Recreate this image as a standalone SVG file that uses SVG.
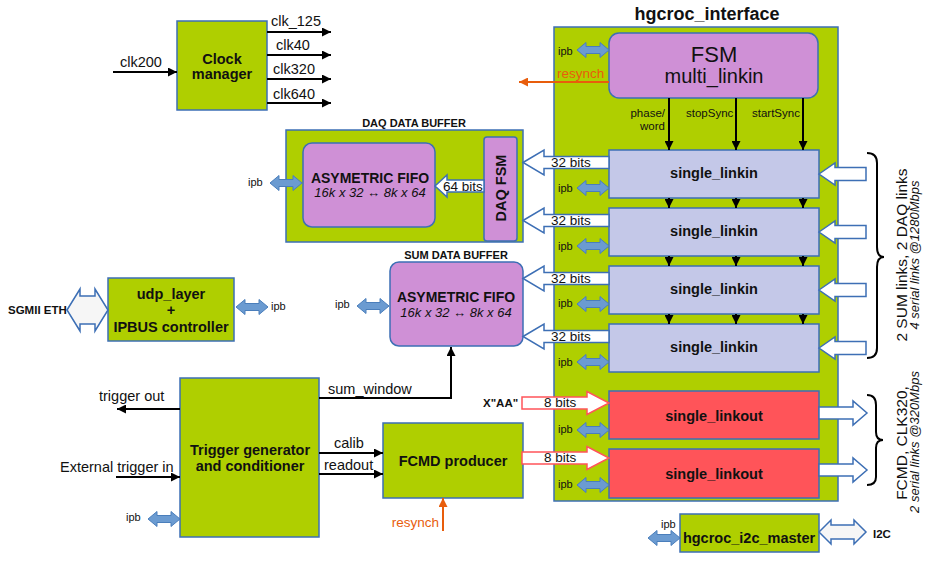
<svg xmlns="http://www.w3.org/2000/svg" xmlns:xlink="http://www.w3.org/1999/xlink" width="925" height="563" viewBox="0 0 925 563">
<style>
text{font-family:"Liberation Sans",Arial,sans-serif;fill:#111}
.g{fill:#afcf00;stroke:#3d6fb5;stroke-width:1.5}
.p{fill:#cf90d6;stroke:#3d6fb5;stroke-width:1.5}
.l{fill:#c4c8e8;stroke:#3d6fb5;stroke-width:1.5}
.r{fill:#ff5459;stroke:#3d6fb5;stroke-width:1.5}
.b{font-weight:bold}
.t14{font-size:14.5px}
.c{text-anchor:middle}
.e{text-anchor:end}
.ipbt{font-size:11px}
.hw{fill:#fff;stroke:#3d6fb5;stroke-width:1.5}
.hr{fill:#fff;stroke:#ff5459;stroke-width:1.5}
.hl{fill:#f6f6f6;stroke:#3d6fb5;stroke-width:1.5}
.ln{stroke:#000;stroke-width:2;fill:none}
.or{stroke:#e85d0c;stroke-width:2;fill:none}
.br{stroke:#000;stroke-width:2;fill:none}
</style>
<defs>
<marker id="ah" viewBox="0 0 10 10" refX="10" refY="5" markerWidth="10" markerHeight="9" markerUnits="userSpaceOnUse" orient="auto"><path d="M0,0 L10,5 L0,10 z" fill="#000"/></marker>
<marker id="ao" viewBox="0 0 10 10" refX="10" refY="5" markerWidth="10" markerHeight="9" markerUnits="userSpaceOnUse" orient="auto"><path d="M0,0 L10,5 L0,10 z" fill="#e85d0c"/></marker>
<path id="ipb" d="M0,0 l9,-7.5 v4 h14 v-4 l9,7.5 l-9,7.5 v-4 h-14 v4 z" fill="#6b9bd1" stroke="#4a7ebb" stroke-width="1"/>
</defs>

<!-- Clock manager -->
<g id="clock_manager">
<rect class="g" x="177" y="21" width="90" height="89"/>
<text class="b t14 c" x="222" y="64">Clock</text>
<text class="b t14 c" x="222" y="79">manager</text>
<text class="t14" x="120" y="67">clk200</text>
<text class="t14 c" x="296" y="26">clk_125</text>
<text class="t14 c" x="293" y="50">clk40</text>
<text class="t14 c" x="294" y="74">clk320</text>
<text class="t14 c" x="294" y="99">clk640</text>
</g>

<!-- DAQ data buffer -->
<g id="daq_data_buffer">
<text class="b c" style="font-size:11px" x="414" y="127">DAQ DATA BUFFER</text>
<rect class="g" x="286" y="130" width="237" height="112"/>
<rect class="p" x="303" y="143" width="132" height="84" rx="9"/>
<text class="b c" style="font-size:14px" x="370" y="183">ASYMETRIC FIFO</text>
<text class="c" style="font-size:13px;font-style:italic" x="370" y="197">16k x 32 ↔ 8k x 64</text>
<rect class="p" x="484" y="137" width="33" height="104" rx="3"/>
<text class="b t14 c" transform="translate(506,188) rotate(-90)">DAQ FSM</text>
<polygon class="hw" points="435,186 447,175 447,180 484,180 484,192 447,192 447,197"/>
<text style="font-size:13.5px" x="443" y="191">64 bits</text>
<use xlink:href="#ipb" x="270" y="183"/>
<text class="ipbt" x="248" y="186">ipb</text>
</g>

<!-- SUM data buffer -->
<g id="sum_data_buffer">
<text class="b c" style="font-size:11px" x="456" y="259">SUM DATA BUFFER</text>
<rect class="p" x="390" y="262" width="133" height="84" rx="9"/>
<text class="b c" style="font-size:14px" x="456" y="302">ASYMETRIC FIFO</text>
<text class="c" style="font-size:13px;font-style:italic" x="456" y="317">16k x 32 ↔ 8k x 64</text>
<use xlink:href="#ipb" x="357" y="306"/>
<text class="ipbt" x="335" y="308">ipb</text>
</g>

<!-- udp layer -->
<g id="udp_layer">
<rect class="g" x="108" y="278" width="126" height="63"/>
<text class="b t14 c" x="171" y="299">udp_layer</text>
<text class="b t14 c" x="171" y="315">+</text>
<text class="b t14 c" x="171" y="332">IPBUS controller</text>
<polygon class="hl" points="67,310 80,289 80,296 95,296 95,289 108,310 95,331 95,324 80,324 80,331"/>
<text class="b" style="font-size:11.5px" x="8" y="314">SGMII ETH</text>
<use xlink:href="#ipb" x="236" y="307"/>
<text class="ipbt" x="271" y="310">ipb</text>
</g>

<!-- Trigger generator -->
<g id="trigger_generator">
<rect class="g" x="180" y="378" width="139" height="159"/>
<text class="b t14 c" x="250" y="455">Trigger generator</text>
<text class="b t14 c" x="250" y="471">and conditioner</text>
<text class="t14" x="99" y="401">trigger out</text>
<text class="t14" x="60" y="472">External trigger in</text>
<use xlink:href="#ipb" x="148" y="519"/>
<text class="ipbt" x="126" y="521">ipb</text>
</g>

<!-- FCMD producer -->
<g id="fcmd_producer">
<rect class="g" x="383" y="423" width="140" height="75"/>
<text class="b t14 c" x="453" y="466">FCMD producer</text>
<text class="e" style="font-size:13.5px;fill:#e85d0c" x="439" y="527">resynch</text>
</g>

<!-- hgcroc interface -->
<g id="hgcroc_interface">
<text class="b c" style="font-size:18px" x="707" y="20">hgcroc_interface</text>
<rect class="g" x="554" y="27" width="284" height="474"/>
</g>

<g id="fsm_multi_linkin">
<rect class="p" x="609" y="33" width="209" height="65" rx="10"/>
<text class="c" style="font-size:22px" x="714" y="62">FSM</text>
<text class="c" style="font-size:20px" x="714" y="83">multi_linkin</text>
<use xlink:href="#ipb" x="577" y="50"/>
<text class="ipbt" x="558" y="55">ipb</text>
<text style="font-size:13.5px;fill:#e85d0c" x="557" y="78">resynch</text>
<text class="e" style="font-size:11.5px" x="665" y="117">phase/</text>
<text class="e" style="font-size:11.5px" x="665" y="130">word</text>
<text style="font-size:11.5px" x="686" y="117">stopSync</text>
<text style="font-size:11.5px" x="752" y="117">startSync</text>
</g>

<g id="single_linkin_1">
<rect class="l" x="609" y="150" width="210" height="48"/>
<text class="b t14 c" x="714" y="178">single_linkin</text>
<use xlink:href="#ipb" x="577" y="188"/>
<text class="ipbt" x="558" y="192">ipb</text>
</g>
<g id="single_linkin_2">
<rect class="l" x="609" y="208" width="210" height="48"/>
<text class="b t14 c" x="714" y="236">single_linkin</text>
<use xlink:href="#ipb" x="577" y="246"/>
<text class="ipbt" x="558" y="250">ipb</text>
</g>
<g id="single_linkin_3">
<rect class="l" x="609" y="266" width="210" height="48"/>
<text class="b t14 c" x="714" y="294">single_linkin</text>
<use xlink:href="#ipb" x="577" y="304"/>
<text class="ipbt" x="558" y="307">ipb</text>
</g>
<g id="single_linkin_4">
<rect class="l" x="609" y="324" width="210" height="48"/>
<text class="b t14 c" x="714" y="352">single_linkin</text>
<use xlink:href="#ipb" x="577" y="362"/>
<text class="ipbt" x="558" y="366">ipb</text>
</g>
<g id="single_linkout_1">
<rect class="r" x="609" y="391" width="210" height="48"/>
<text class="b t14 c" x="714" y="421">single_linkout</text>
<use xlink:href="#ipb" x="577" y="430"/>
<text class="ipbt" x="558" y="433">ipb</text>
</g>
<g id="single_linkout_2">
<rect class="r" x="609" y="449" width="210" height="49"/>
<text class="b t14 c" x="714" y="479">single_linkout</text>
<use xlink:href="#ipb" x="577" y="485"/>
<text class="ipbt" x="558" y="488">ipb</text>
</g>

<g id="hgcroc_i2c_master">
<rect class="g" x="680" y="514" width="139" height="38"/>
<text class="b t14 c" x="749" y="543">hgcroc_i2c_master</text>
<use xlink:href="#ipb" x="648" y="538"/>
<text class="ipbt" x="661" y="528">ipb</text>
<polygon class="hl" points="819,532 831,520 831,525 854,525 854,520 866,532 854,544 854,539 831,539 831,544"/>
<text class="b" style="font-size:11.5px" x="873" y="538">I2C</text>
</g>

<!-- Connectors -->
<g id="connectors">
<line class="ln" x1="113" y1="72" x2="177" y2="72" marker-end="url(#ah)"/>
<line class="ln" x1="267" y1="32" x2="331" y2="32" marker-end="url(#ah)"/>
<line class="ln" x1="267" y1="55" x2="331" y2="55" marker-end="url(#ah)"/>
<line class="ln" x1="267" y1="79" x2="331" y2="79" marker-end="url(#ah)"/>
<line class="ln" x1="267" y1="103" x2="331" y2="103" marker-end="url(#ah)"/>

<line class="or" x1="609" y1="82" x2="519" y2="82" marker-end="url(#ao)"/>
<line class="ln" x1="669" y1="98" x2="669" y2="150" marker-end="url(#ah)"/>
<line class="ln" x1="736" y1="98" x2="736" y2="150" marker-end="url(#ah)"/>
<line class="ln" x1="803" y1="98" x2="803" y2="150" marker-end="url(#ah)"/>
<line class="ln" x1="669" y1="198" x2="669" y2="208" marker-end="url(#ah)"/>
<line class="ln" x1="736" y1="198" x2="736" y2="208" marker-end="url(#ah)"/>
<line class="ln" x1="803" y1="198" x2="803" y2="208" marker-end="url(#ah)"/>
<line class="ln" x1="669" y1="256" x2="669" y2="266" marker-end="url(#ah)"/>
<line class="ln" x1="736" y1="256" x2="736" y2="266" marker-end="url(#ah)"/>
<line class="ln" x1="803" y1="256" x2="803" y2="266" marker-end="url(#ah)"/>
<line class="ln" x1="669" y1="314" x2="669" y2="324" marker-end="url(#ah)"/>
<line class="ln" x1="736" y1="314" x2="736" y2="324" marker-end="url(#ah)"/>
<line class="ln" x1="803" y1="314" x2="803" y2="324" marker-end="url(#ah)"/>

<polygon class="hw" points="523,162.5 544,150 544,156.5 609,156.5 609,168.5 544,168.5 544,175"/>
<polygon class="hw" points="523,220.5 544,208 544,214.5 609,214.5 609,226.5 544,226.5 544,233"/>
<polygon class="hw" points="523,278.5 544,266 544,272.5 609,272.5 609,284.5 544,284.5 544,291"/>
<polygon class="hw" points="523,336.5 544,324 544,330.5 609,330.5 609,342.5 544,342.5 544,349"/>
<text style="font-size:13.5px" x="551" y="167">32 bits</text>
<text style="font-size:13.5px" x="551" y="225">32 bits</text>
<text style="font-size:13.5px" x="551" y="283">32 bits</text>
<text style="font-size:13.5px" x="551" y="341">32 bits</text>

<polygon class="hw" points="819,174 835,163 835,167.5 866,167.5 866,180.5 835,180.5 835,185"/>
<polygon class="hw" points="819,232 835,221 835,225.5 866,225.5 866,238.5 835,238.5 835,243"/>
<polygon class="hw" points="819,290 835,279 835,283.5 866,283.5 866,296.5 835,296.5 835,301"/>
<polygon class="hw" points="819,348 835,337 835,341.5 866,341.5 866,354.5 835,354.5 835,359"/>

<polygon class="hw" points="819,407 853,407 853,401 867,413 853,425 853,419 819,419"/>
<polygon class="hw" points="819,464 853,464 853,458 867,470 853,482 853,476 819,476"/>

<polygon class="hr" points="522,397 587,397 587,391.5 609,403 587,414.5 587,409 522,409"/>
<polygon class="hr" points="522,452 587,452 587,446.5 609,458 587,469.5 587,464 522,464"/>
<text class="b" style="font-size:11.5px" x="483" y="407">X"AA"</text>
<text style="font-size:13.5px" x="544" y="407">8 bits</text>
<text style="font-size:13.5px" x="544" y="462">8 bits</text>

<path class="br" d="M867,153 Q877,153 877,163 L877,247 Q877,257 884,257 Q877,257 877,267 L877,348 Q877,358 867,358"/>
<path class="br" d="M867,395 Q876,395 876,405 L876,432 Q876,440 883,440 Q876,440 876,448 L876,477 Q876,485 867,485"/>
<text class="c" style="font-size:15.5px" transform="translate(907,255) rotate(-90)">2 SUM links, 2 DAQ links</text>
<text class="c" style="font-size:13px;font-style:italic" transform="translate(919,255) rotate(-90)">4 serial links @1280Mbps</text>
<text class="c" style="font-size:15.5px" transform="translate(907,443) rotate(-90)">FCMD, CLK320,</text>
<text class="c" style="font-size:13px;font-style:italic" transform="translate(919,442) rotate(-90)">2 serial links @320Mbps</text>

<line class="ln" x1="180" y1="409" x2="117" y2="409" marker-end="url(#ah)"/>
<line class="ln" x1="116" y1="477" x2="180" y2="477" marker-end="url(#ah)"/>
<line class="ln" x1="319" y1="453" x2="383" y2="453" marker-end="url(#ah)"/>
<line class="ln" x1="319" y1="474" x2="383" y2="474" marker-end="url(#ah)"/>
<text class="t14" x="334" y="448">calib</text>
<text class="t14" x="324" y="470">readout</text>
<polyline class="ln" points="319,398 451,398 451,347" marker-end="url(#ah)"/>
<text class="t14" x="328" y="394">sum_window</text>
<line class="or" x1="443" y1="531" x2="443" y2="498" marker-end="url(#ao)"/>
</g>
</svg>
